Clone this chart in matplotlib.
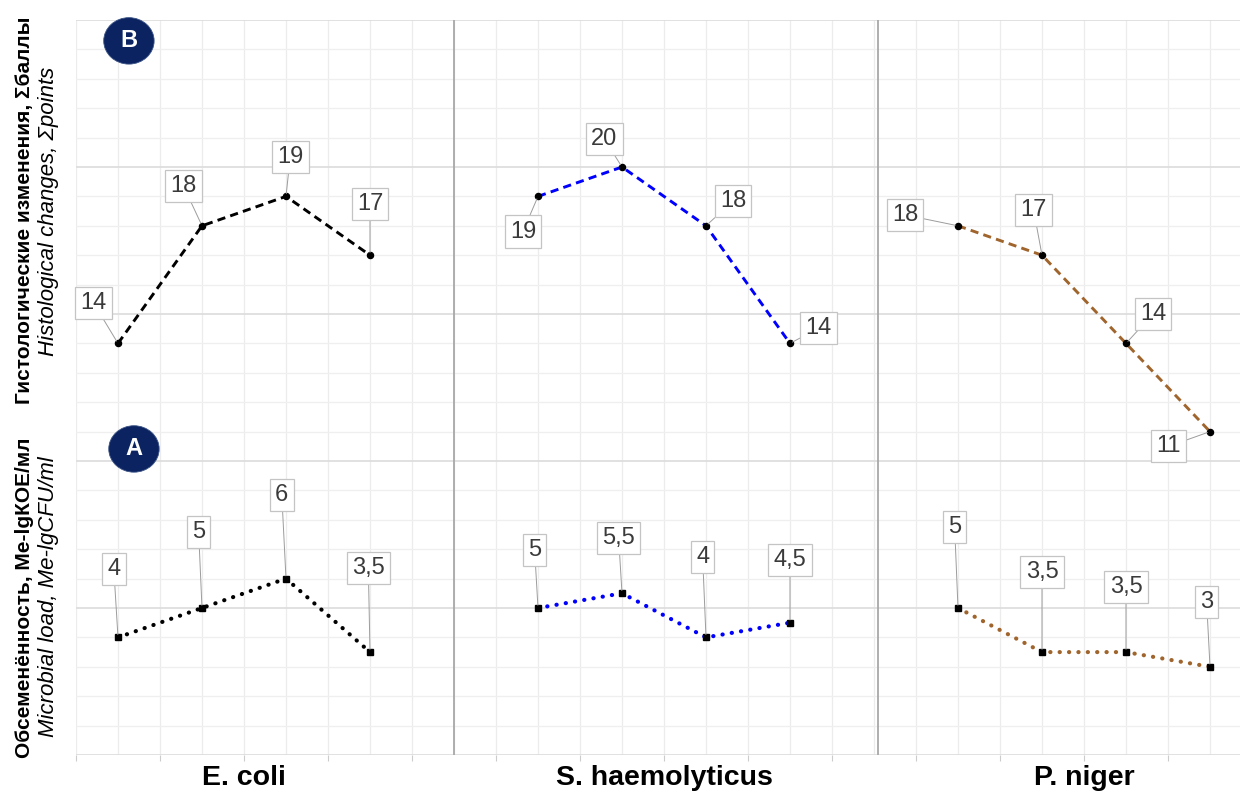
import matplotlib
matplotlib.use('Agg')
import matplotlib.pyplot as plt
from matplotlib.patches import Ellipse
import numpy as np

plt.rcParams['font.family'] = ['Liberation Sans', 'DejaVu Sans']

# data: three strains, four time points each
groups = ['E. coli', 'S. haemolyticus', 'P. niger']
hist_points = [[14, 18, 19, 17], [19, 20, 18, 14], [18, 17, 14, 11]]
micro_load = [[4, 5, 6, 3.5], [5, 5.5, 4, 4.5], [5, 3.5, 3.5, 3]]
line_colors = ['black', '#0000ff', '#a0652d']

# label nudges (dx, dy) in data units, like ggrepel placed them
hist_nudge = [[(-0.29, 1.37), (-0.22, 1.35), (0.05, 1.34), (0.0, 1.74)],
              [(-0.18, -1.2), (-0.21, 0.95), (0.32, 0.84), (0.34, 0.52)],
              [(-0.63, 0.37), (-0.1, 1.54), (0.32, 1.0), (-0.49, -0.5)]]
micro_nudge = [[(-0.05, 2.33), (-0.04, 2.59), (-0.05, 2.84), (-0.02, 2.86)],
               [(-0.04, 1.97), (-0.04, 1.88), (-0.04, 2.73), (0.0, 2.13)],
               [(-0.04, 2.76), (0.0, 2.72), (0.0, 2.21), (-0.04, 2.2)]]

W, H = 1240, 792
fig = plt.figure(figsize=(W / 100, H / 100), dpi=100)
ax = fig.add_axes([76 / W, 37 / H, 1164 / W, 735 / H])

# grid in the style of theme_minimal
ax.set_xticks(np.arange(0.5, 15, 1))
ax.set_xticks(np.arange(1, 15, 1), minor=True)
ax.set_yticks(np.arange(0, 26, 5))
ax.set_yticks(np.arange(0, 26, 1), minor=True)
ax.set_xlim(0.5, 0.5 + 1164 / 84)
ax.set_ylim(0, 25)
ax.grid(True, which='major', axis='y', color='#dedede', lw=1.3)
ax.grid(True, which='minor', axis='y', color='#efefef', lw=0.9)
ax.grid(True, which='both', axis='x', color='#ececec', lw=0.9)
ax.set_axisbelow(True)
ax.tick_params(axis='x', which='major', length=4, color='#cccccc', width=0.8,
               labelbottom=False)
ax.tick_params(axis='x', which='minor', length=0)
ax.tick_params(axis='y', which='both', length=0, labelleft=False)
for s in ax.spines.values():
    s.set_visible(False)

# facet borders
for sep in (5.0, 10.05):
    ax.axvline(sep, color='#a8a8a8', lw=1.3, zorder=1)


def fmt(v):
    return '{:g}'.format(v).replace('.', ',')


def label(x, y, v, d):
    ax.annotate(fmt(v), xy=(x, y), xytext=(x + d[0], y + d[1]),
                ha='center', va='center', fontsize=17, color='#3a3a3a',
                bbox=dict(boxstyle='square,pad=0.22', fc='white',
                          ec='#c4c4c4', lw=0.9),
                arrowprops=dict(arrowstyle='-', color='#9c9c9c', lw=0.7,
                                shrinkA=0, shrinkB=2),
                zorder=5)


for i, name in enumerate(groups):
    xs = 1 + 5 * i + np.arange(4)
    col = line_colors[i]
    ax.plot(xs, hist_points[i], color=col, lw=2.1, dashes=(2.8, 1.8), zorder=3)
    ax.plot(xs, hist_points[i], 'o', color='black', ms=4.4, zorder=4)
    ax.plot(xs, micro_load[i], color=col, lw=3.0, dashes=(0.05, 2.2),
            dash_capstyle='round', zorder=3)
    ax.plot(xs, micro_load[i], 's', color='black', ms=4.6, zorder=4)
    for j in range(4):
        label(xs[j], hist_points[i][j], hist_points[i][j], hist_nudge[i][j])
        label(xs[j], micro_load[i][j], micro_load[i][j], micro_nudge[i][j])
    # strain name under each facet
    fig.text(ax.transData.transform((xs.mean(), 0))[0] / W, 7 / H, name,
             ha='center', va='baseline', fontsize=20.5, fontweight='bold')

# panel badges
for txt, (bx, by) in (('B', (1.13, 24.29)), ('A', (1.19, 10.41))):
    ax.add_patch(Ellipse((bx, by), 0.6, 1.58, fc='#0b2461', ec='#3a5386',
                         lw=0.6, zorder=6, clip_on=False))
    ax.text(bx, by, txt, ha='center', va='center', color='white',
            fontsize=17, fontweight='bold', zorder=7)

# two-part y axis title
fig.text(25 / W, 1 - 598 / H, 'Обсеменённость, Me-lgКОЕ/мл', rotation=90,
         ha='center', va='center', fontsize=15, fontweight='bold')
fig.text(25 / W, 1 - 210 / H, 'Гистологические изменения, Σбаллы', rotation=90,
         ha='center', va='center', fontsize=15, fontweight='bold')
fig.text(49 / W, 1 - 597 / H, 'Microbial load, Me-lgCFU/ml', rotation=90,
         ha='center', va='center', fontsize=16, style='italic')
fig.text(49 / W, 1 - 211 / H, 'Histological changes, Σpoints', rotation=90,
         ha='center', va='center', fontsize=16, style='italic')

fig.savefig('out.png', dpi=100)
